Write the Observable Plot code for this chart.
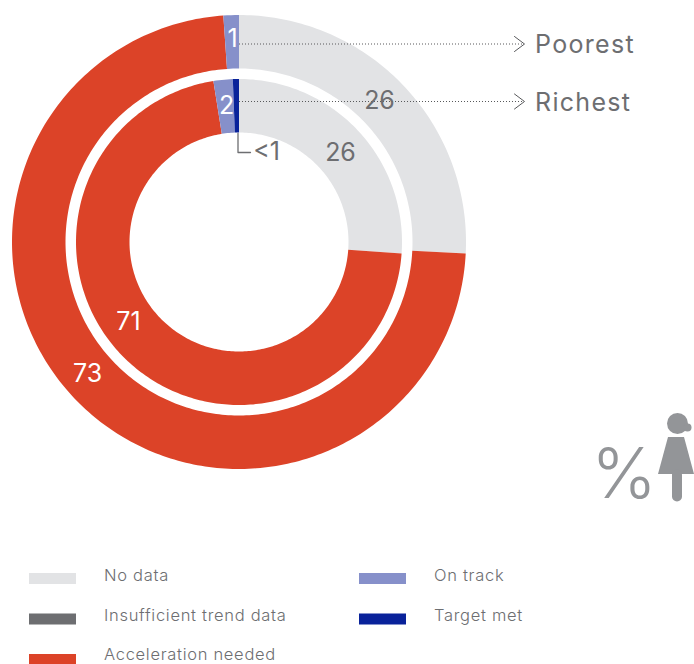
<!DOCTYPE html>
<html>
<head>
<meta charset="utf-8">
<script src="https://cdn.jsdelivr.net/npm/d3@7"></script>
<script src="https://cdn.jsdelivr.net/npm/@observablehq/plot@0.6"></script>
<style>
html,body{margin:0;padding:0;background:#fff;overflow:hidden}
svg{display:block}
.ring-name{letter-spacing:1.3px}
.legend-text{letter-spacing:0.7px}
</style>
</head>
<body>
<div id="chart"></div>
<script>
const categories = ["No data", "Insufficient trend data", "Acceleration needed", "On track", "Target met"];
const colors = ["#e2e3e5", "#6d6e71", "#dc4328", "#8690ca", "#09229a"];
const poorest = [25.8, 0, 73.1, 1.1, 0];
const richest = [26, 0, 71, 1.9, 0.6];

const FONT = "Inter, sans-serif";
const GREY = "#6d6e71";
const center = [239, 242];
const rings = [
  {name: "Poorest", values: poorest, outer: 227, inner: 173.5},
  {name: "Richest", values: richest, outer: 163, inner: 109.5}
];

function polar(r, turn) {
  const a = turn * 2 * Math.PI;
  return [center[0] + r * Math.sin(a), center[1] - r * Math.cos(a)];
}

// Clockwise from 12 o'clock, each slice sampled along its arc for Plot.area
const slices = [];
for (const ring of rings) {
  const total = d3.sum(ring.values);
  let start = 0;
  ring.values.forEach((v, i) => {
    if (v > 0) {
      const end = start + v / total;
      const n = Math.max(2, Math.ceil((end - start) * 360));
      for (let k = 0; k <= n; k++) {
        const t = start + (end - start) * k / n;
        const [x1, y1] = polar(ring.outer, t);
        const [x2, y2] = polar(ring.inner, t);
        slices.push({key: ring.name + i, category: categories[i], x1, y1, x2, y2});
      }
      start = end;
    }
  });
}

const valueLabels = [
  {x: 232, y: 38, text: "1", fill: "#fff"},
  {x: 226, y: 105, text: "2", fill: "#fff"},
  {x: 379, y: 100, text: "26", fill: GREY},
  {x: 340, y: 152, text: "26", fill: GREY},
  {x: 266, y: 151, text: "<1", fill: GREY},
  {x: 128, y: 321, text: "71", fill: "#fff"},
  {x: 87, y: 373, text: "73", fill: "#fff"}
];
const leaders = [{y: 43.5, label: "Poorest"}, {y: 101, label: "Richest"}];
const legendRows = categories.map((c, i) => ({
  category: c,
  x: i < 3 ? 29 : 359,
  y: 573 + (i < 3 ? i : i - 3) * 40.5
}));

const plot = Plot.plot({
  width: 694, height: 664,
  margin: 0,
  x: {domain: [0, 694], range: [0, 694], axis: null},
  y: {domain: [0, 664], range: [0, 664], axis: null},
  color: {domain: categories, range: colors},
  style: {fontFamily: FONT, background: "#fff"},
  marks: [
    Plot.area(slices, {x1: "x1", y1: "y1", x2: "x2", y2: "y2", z: "key", fill: "category"}),
    // dotted leaders and chevrons
    Plot.ruleY(leaders, {y: "y", x1: 239, x2: 523, stroke: "#58595b", strokeWidth: 1, strokeDasharray: "1,2"}),
    ...leaders.map(d => Plot.line([[514, d.y - 7.5], [524, d.y], [514, d.y + 7.5]], {stroke: "#58595b", strokeWidth: 1})),
    Plot.text(leaders, {x: 534.5, y: d => d.y + 1, text: "label", textAnchor: "start", fontSize: 25, fontWeight: 400, fill: GREY, className: "ring-name"}),
    // <1 leader
    Plot.line([[237.5, 133], [237.5, 152], [250, 152]], {stroke: GREY, strokeWidth: 1.3}),
    Plot.text(valueLabels, {x: "x", y: "y", text: "text", fill: d => d.fill, fontSize: 25, fontWeight: 400}),
    // % and woman pictogram
    Plot.text(["%"], {x: 623.5, y: 475, text: d => d, fontSize: 70, fontWeight: 350, fill: "#939598"}),
    Plot.dot([[677, 423]], {r: 10.5, fill: "#939598"}),
    Plot.dot([[687, 427]], {r: 4, fill: "#939598"}),
    Plot.area([{y: 437, a: 668, b: 684}, {y: 474, a: 658, b: 694}], {x1: "a", x2: "b", y1: "y", y2: "y", fill: "#939598"}),
    Plot.line([[676.5, 474], [676.5, 496]], {stroke: "#939598", strokeWidth: 10, strokeLinecap: "round"}),
    // legend
    Plot.rect(legendRows, {x1: "x", x2: d => d.x + 47, y1: "y", y2: d => d.y + 11, fill: "category"}),
    Plot.text(legendRows, {x: d => d.x + 74.5, y: d => Math.min(d.y + 2, 654), text: "category", textAnchor: "start", fontSize: 16.5, fontWeight: 300, fill: GREY, className: "legend-text"})
  ]
});
document.getElementById("chart").append(plot);
</script>
</body>
</html>
